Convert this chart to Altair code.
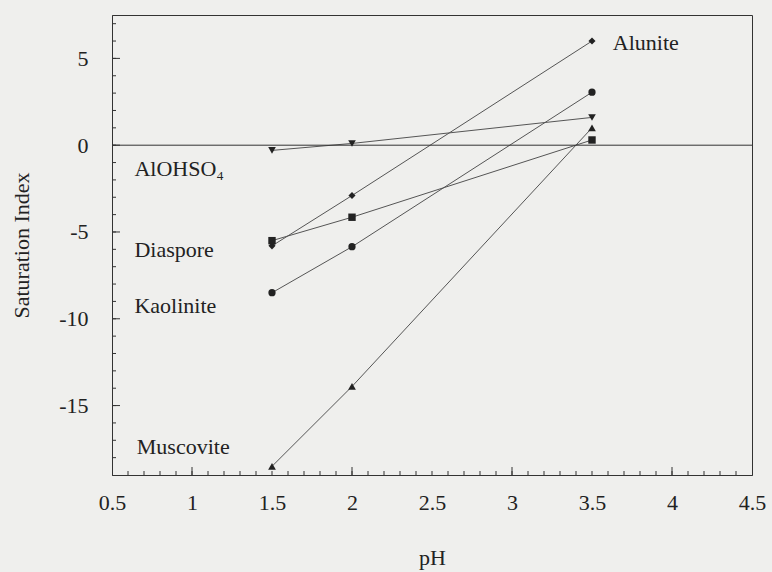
import altair as alt
import pandas as pd

# ---- data ----
ph = [1.5, 2.0, 3.5]
alunite = [-5.8, -2.9, 6.0]
kaolinite = [-8.5, -5.85, 3.05]
diaspore = [-5.5, -4.15, 0.3]
alohso4 = [-0.3, 0.1, 1.6]
muscovite = [-18.5, -13.9, 1.0]

minerals = ["Alunite", "Kaolinite", "Diaspore", "AlOHSO4", "Muscovite"]
shapes = ["diamond", "circle", "square", "triangle-down", "triangle-up"]
sizes = [50, 60, 60, 70, 70]

label_names = ["Alunite", "AlOHSO₄", "Diaspore", "Kaolinite", "Muscovite"]
label_x = [3.63, 0.64, 0.64, 0.64, 0.655]
label_y = [5.9, -1.4, -6.05, -9.28, -17.4]

zero_line = [0]

x_labels = [0.5, 1, 1.5, 2, 2.5, 3, 3.5, 4, 4.5]
y_labels = [-15, -10, -5, 0, 5]
x_major = [1, 2, 3, 4]
x_minor = [round(0.5 + 0.1 * i, 1) for i in range(1, 40)]
y_major = [-15, -10, -5, 0, 5]
y_minor = list(range(-18, 8))

series = {"Alunite": alunite, "Kaolinite": kaolinite, "Diaspore": diaspore,
          "AlOHSO4": alohso4, "Muscovite": muscovite}
rows = []
for m in minerals:
    for xv, yv in zip(ph, series[m]):
        rows.append({"mineral": m, "ph": xv, "si": yv})
df = pd.DataFrame(rows)
lab_df = pd.DataFrame({"name": label_names, "x": label_x, "y": label_y})
zero_df = pd.DataFrame({"zero": zero_line})

FONT = "Liberation Serif"
INK = "#222222"
AXC = "#333333"
W, H = 640, 460
MAJOR, MINOR = 8, 4

xscale = alt.Scale(domain=[0.5, 4.5], nice=False, zero=False)
yscale = alt.Scale(domain=[-19, 7.5], nice=False, zero=False)

main_x_axis = alt.Axis(
    title="pH", values=x_labels, labelExpr="toString(datum.value)",
    ticks=False, tickSize=0, grid=False, domainColor=AXC, labelFlush=False,
    labelFont=FONT, labelFontSize=22, labelColor=INK, labelPadding=17,
    titleFont=FONT, titleFontSize=22, titleFontWeight="normal",
    titleColor=INK, titlePadding=34, orient="bottom")
main_y_axis = alt.Axis(
    title="Saturation Index", values=y_labels, labelExpr="toString(datum.value)",
    ticks=False, tickSize=0, grid=False, domainColor=AXC, labelFlush=False,
    labelFont=FONT, labelFontSize=22, labelColor=INK, labelPadding=24,
    titleFont=FONT, titleFontSize=22, titleFontWeight="normal",
    titleColor=INK, titlePadding=25, orient="left")


def x_ticks(vals, size):
    return alt.Chart(pd.DataFrame({"t": vals})).mark_rule(color=AXC, strokeWidth=1).encode(
        x=alt.X("t:Q", scale=xscale, axis=main_x_axis),
        y=alt.value(H), y2=alt.value(H - size))


def y_ticks(vals, size):
    return alt.Chart(pd.DataFrame({"t": vals})).mark_rule(color=AXC, strokeWidth=1).encode(
        y=alt.Y("t:Q", scale=yscale, axis=main_y_axis),
        x=alt.value(0), x2=alt.value(size))


lines = alt.Chart(df).mark_line(color="#555555", strokeWidth=1).encode(
    x=alt.X("ph:Q", scale=xscale, axis=main_x_axis),
    y=alt.Y("si:Q", scale=yscale, axis=main_y_axis),
    detail="mineral:N")

zero = alt.Chart(zero_df).mark_rule(color=AXC, strokeWidth=1).encode(
    y=alt.Y("zero:Q", scale=yscale, axis=main_y_axis))

points = alt.Chart(df).mark_point(filled=True, color=INK, opacity=1).encode(
    x=alt.X("ph:Q", scale=xscale, axis=main_x_axis),
    y=alt.Y("si:Q", scale=yscale, axis=main_y_axis),
    shape=alt.Shape("mineral:N", scale=alt.Scale(domain=minerals, range=shapes), legend=None),
    size=alt.Size("mineral:N", scale=alt.Scale(domain=minerals, range=sizes), legend=None))

labels = alt.Chart(lab_df).mark_text(
    align="left", baseline="middle", font=FONT, fontSize=22, color=INK).encode(
    x=alt.X("x:Q", scale=xscale, axis=main_x_axis),
    y=alt.Y("y:Q", scale=yscale, axis=main_y_axis),
    text="name:N")

chart = alt.layer(
    lines, zero,
    x_ticks(x_minor, MINOR), x_ticks(x_major, MAJOR),
    y_ticks(y_minor, MINOR), y_ticks(y_major, MAJOR),
    points, labels,
).properties(
    width=W, height=H,
    background="#efefed",
    padding={"left": 112, "top": 15, "right": 20, "bottom": 97},
    autosize=alt.AutoSizeParams(type="none"),
).configure_view(
    stroke=AXC, strokeWidth=1
).configure_axis(grid=False)

chart.save("out.html", embed_options={"renderer": "svg", "actions": False})
